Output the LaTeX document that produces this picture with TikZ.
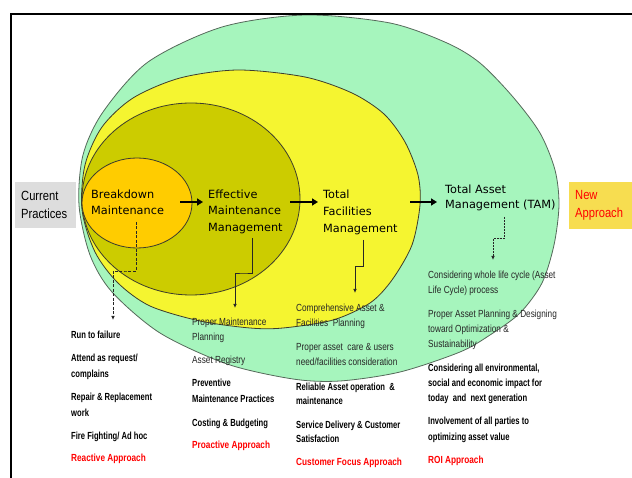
\documentclass[tikz,border=0pt]{standalone}
\usepackage{fontspec}
\setmainfont{DejaVu Sans}
\newfontfamily\labfont{DejaVu Sans}
\newfontfamily\boxfont[FakeStretch=0.84]{Liberation Sans}
\newfontfamily\lstfont[FakeStretch=0.80]{Liberation Sans}
\newfontfamily\lstbfont[FakeStretch=0.74]{Liberation Sans}
\usetikzlibrary{arrows.meta,calc}
\definecolor{cgreen}{RGB}{166,245,189}
\definecolor{cyellow}{RGB}{245,245,48}
\definecolor{colive}{RGB}{204,204,0}
\definecolor{corange}{RGB}{255,204,0}
\definecolor{cgrey}{RGB}{221,221,221}
\definecolor{cgold}{RGB}{247,221,80}
\definecolor{cred}{RGB}{255,0,0}
\definecolor{cline}{RGB}{60,60,45}
\definecolor{cgline}{RGB}{85,105,90}
\newcommand{\hs}{\rule{0pt}{0.9em}}
\begin{document}
\begin{tikzpicture}[x=1pt,y=-1pt,
  shapeline/.style={draw=cline, line width=0.8pt},
  lab/.style={font={\labfont\fontsize{11.3}{16.8}\selectfont}, align=left, inner sep=0pt, anchor=north west, text=black},
  itm/.style={font={\lstfont\fontsize{10.3}{15}\selectfont}, align=left, inner sep=0pt, anchor=north west, text=black!85},
  itmb/.style={font={\lstbfont\bfseries\fontsize{10.3}{15.5}\selectfont}, align=left, inner sep=0pt, anchor=north west, text=black},
  appr/.style={font={\lstfont\bfseries\fontsize{10.3}{15}\selectfont}, inner sep=0pt, anchor=north west, text=cred},
  sidebox/.style={font={\boxfont\fontsize{13.3}{18}\selectfont}, align=left, inner xsep=6pt, inner ysep=0pt, minimum height=46pt, anchor=north west},
  elbow/.style={line width=0.7pt, draw=black!85, -{Latex[length=4pt,width=3.5pt]}},
  elbowd/.style={elbow, dash pattern=on 3pt off 1.5pt},
  bigarr/.style={line width=2pt, -{Triangle[length=6pt,width=7pt]}},
]
\useasboundingbox (0,0) rectangle (632,478);

% nested regions
\draw[fill=cgreen, draw=cgline, line width=0.8pt] plot[smooth cycle] coordinates {
 (305,15) (390,23) (447,43) (480,63) (513,97) (540,133) (555,170) (559,205)
 (554,245) (542,283) (520,313) (490,335) (460,352) (400,372) (340,381) (293,379)
 (227,364) (160,333) (112,292) (90,255) (79,205) (83,155) (103,112) (148,62) (222,27)};
\draw[fill=cyellow, shapeline] plot[smooth cycle] coordinates {
 (238,70) (305,77) (352,93) (384,114) (405,142) (418,175) (420,205) (412,245) (392,280)
 (370,303) (333,320) (283,328) (250,328) (200,321) (150,306) (118,283) (95,252)
 (82,210) (85,165) (102,127) (133,98) (180,78)};
\draw[fill=colive, shapeline] (191,199) ellipse [x radius=109pt, y radius=96pt];
\draw[fill=corange, shapeline] (137,203) ellipse [x radius=55pt, y radius=45pt];

% frame
\draw[line width=2pt] (10.5,478) -- (10.5,14) -- (632,14);

% side boxes
\node[sidebox, fill=cgrey, text width=49pt] (cp) at (15,182) {Current\\Practices};
\node[sidebox, fill=cgold, text width=51pt, minimum height=47pt, text=cred] (na) at (569,182) {New\\Approach};

% stage labels
\node[lab] (bm) at (91,187.8) {\hs Breakdown\\Maintenance};
\node[lab, font={\labfont\fontsize{11.3}{16.5}\selectfont}] (em) at (208,187.8) {\hs Effective\\Maintenance\\Management};
\node[lab, font={\labfont\fontsize{11.3}{17}\selectfont}] (tfm) at (323,187.8) {\hs Total\\Facilities\\Management};
\node[lab, font={\labfont\fontsize{11.3}{15}\selectfont}] (tam) at (445,182.8) {\hs Total Asset\\Management (TAM)};

% stage arrows
\coordinate (h1s) at (180,202); \coordinate (h1e) at (203,202);
\coordinate (h2s) at (290,202); \coordinate (h2e) at (318,202);
\coordinate (h3s) at (410,202); \coordinate (h3e) at (437,202);
\draw[bigarr] (h1s) -- (h1e);
\draw[bigarr] (h2s) -- (h2e);
\draw[bigarr] (h3s) -- (h3e);

% column 1
\node[itmb] (r1) at (71,329.3) {\hs Run to failure};
\node[itmb] (r2) at (71,352.3) {\hs Attend as request/\\complains};
\node[itmb] (r3) at (71,391.3) {\hs Repair \& Replacement\\work};
\node[itmb] (r4) at (71,430.3) {\hs Fire Fighting/ Ad hoc};
\node[appr] (r5) at (71,452.3) {\hs Reactive Approach};

% column 2
\node[itm] (p1) at (192,316.3) {\hs Proper Maintenance\\Planning};
\node[itm] (p2) at (192,354.3) {\hs Asset Registry};
\node[itmb] (p3) at (192,377.3) {\hs Preventive\\Maintenance Practices};
\node[itmb] (p4) at (192,417.3) {\hs Costing \& Budgeting};
\node[appr] (p5) at (192,439.3) {\hs Proactive Approach};

% column 3
\node[itm] (t1) at (296,302.3) {\hs Comprehensive Asset \&\\Facilities~ Planning};
\node[itm] (t2) at (296,341.3) {\hs Proper asset~ care \& users\\need/facilities consideration};
\node[itmb, font={\lstbfont\bfseries\fontsize{10.3}{14.2}\selectfont}] (t3) at (296,381.3) {\hs Reliable Asset operation~ \&\\maintenance};
\node[itmb, font={\lstbfont\bfseries\fontsize{10.3}{14.2}\selectfont}] (t4) at (296,419.3) {\hs Service Delivery \& Customer\\Satisfaction};
\node[appr] (t5) at (296,456.3) {\hs Customer Focus Approach};

% column 4
\node[itm] (a1) at (428,269.3) {\hs Considering whole life cycle (Asset\\Life Cycle) process};
\node[itm] (a2) at (428,308.3) {\hs Proper Asset Planning \& Designing\\toward Optimization \&\\Sustainability};
\node[itmb, font={\lstbfont\bfseries\fontsize{10.3}{15}\selectfont}] (a3) at (428,362.3) {\hs Considering all environmental,\\social and economic impact for\\today~ and~ next generation};
\node[itmb, font={\lstbfont\bfseries\fontsize{10.3}{16}\selectfont}] (a4) at (428,415.3) {\hs Involvement of all parties to\\optimizing asset value};
\node[appr] (a5) at (428,454.3) {\hs ROI Approach};

% elbow connectors
\coordinate (c1s) at (136,222); \coordinate (c1e) at (113,320);
\coordinate (c2s) at (252,238); \coordinate (c2e) at (235,308);
\coordinate (c3s) at (363,240); \coordinate (c3e) at (355,293);
\coordinate (c4s) at (504,217); \coordinate (c4e) at (493,260);
\draw[elbowd] (c1s) |- ($(c1s)!0.5!(c1e)$) -| (c1e);
\draw[elbow] (c2s) |- ($(c2s)!0.5!(c2e)$) -| (c2e);
\draw[elbow] (c3s) |- ($(c3s)!0.5!(c3e)$) -| (c3e);
\draw[elbowd, dash pattern=on 2pt off 1pt] (c4s) |- ($(c4s)!0.5!(c4e)$) -| (c4e);
\end{tikzpicture}
\end{document}
